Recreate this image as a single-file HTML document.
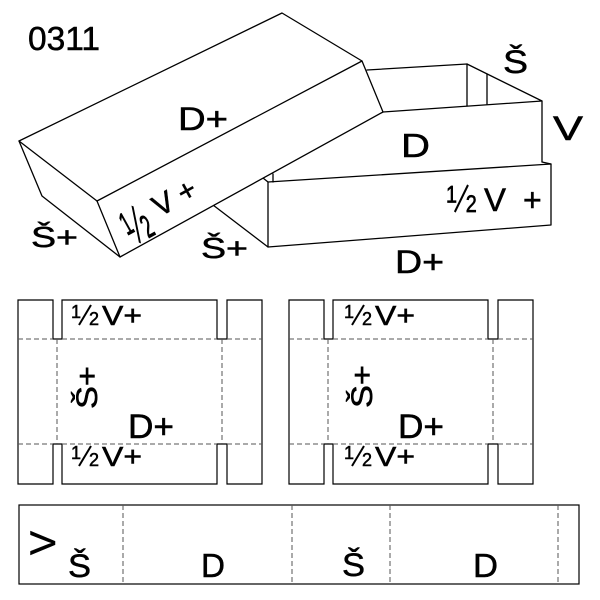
<!DOCTYPE html>
<html>
<head>
<meta charset="utf-8">
<style>
html,body{margin:0;padding:0;background:#fff;}
svg{display:block;}
text{font-family:"Liberation Sans",Arial,sans-serif;fill:#000;stroke:#000;stroke-width:0.5px;}
</style>
</head>
<body>
<svg width="600" height="600" viewBox="0 0 600 600" xmlns="http://www.w3.org/2000/svg">
<rect x="0" y="0" width="600" height="600" fill="#fff"/>

<!-- 3D: base box -->
<g stroke="#000" stroke-width="1.3" fill="none" stroke-linejoin="round" stroke-linecap="round">
  <polyline points="367,70 467,64 542,101 542,162"/>
  <line x1="383" y1="112" x2="542" y2="101"/>
  <line x1="467" y1="64" x2="467" y2="106"/>
  <line x1="487" y1="74" x2="487" y2="104"/>
  <polygon points="268,182 551,164 551,225 268,247" fill="#fff"/>
  <line x1="542" y1="162" x2="551" y2="164"/>
  <line x1="213" y1="205" x2="268" y2="247"/>
  <line x1="263" y1="178" x2="268" y2="182"/>
  <line x1="273" y1="174" x2="273" y2="182"/>
  <!-- lid -->
  <polygon points="19,141 282,13 362,61 383,112 120,257 42,196" fill="#fff"/>
  <line x1="97" y1="201" x2="362" y2="61"/>
  <line x1="19" y1="141" x2="97" y2="201"/>
  <line x1="97" y1="201" x2="120" y2="257"/>
</g>

<!-- 3D labels -->
<text x="28" y="50" font-size="33" textLength="72" lengthAdjust="spacingAndGlyphs">0311</text>
<text x="178" y="130" font-size="32" textLength="50" lengthAdjust="spacingAndGlyphs">D+</text>
<text x="31" y="247" font-size="29" textLength="47" lengthAdjust="spacingAndGlyphs">Š+</text>
<g transform="translate(169,212) rotate(-29)">
  <g transform="translate(-48,13) scale(0.95,1.8)">
    <text x="0" y="-7" font-size="18">1</text>
    <line x1="8" y1="0" x2="20" y2="-20" stroke="#000" stroke-width="1.8"/>
    <text x="18" y="0" font-size="18">2</text>
  </g>
  <text x="-11" y="0" font-size="30">V</text>
  <text x="17" y="0" font-size="30">+</text>
</g>
<text x="201" y="258" font-size="29" textLength="47" lengthAdjust="spacingAndGlyphs">Š+</text>
<text x="503" y="73" font-size="32" textLength="25" lengthAdjust="spacingAndGlyphs">Š</text>
<text x="553" y="140" font-size="34" textLength="30" lengthAdjust="spacingAndGlyphs">V</text>
<text x="401" y="157" font-size="33" textLength="29" lengthAdjust="spacingAndGlyphs">D</text>
<g transform="translate(446,212) scale(1.1,1.35)">
  <text x="0" y="-7" font-size="18">1</text>
  <line x1="8" y1="0" x2="20" y2="-20" stroke="#000" stroke-width="1.8"/>
  <text x="18" y="0" font-size="18">2</text>
</g>
<text x="484" y="211" font-size="32" textLength="22" lengthAdjust="spacingAndGlyphs">V</text>
<text x="523" y="211" font-size="32">+</text>
<text x="395" y="273" font-size="32" textLength="49" lengthAdjust="spacingAndGlyphs">D+</text>

<!-- Left net -->
<g>
  <path d="M18,300 H53 V339 H62 V300 H217 V339 H227 V300 H262 V484 H227 V444 H217 V484 H62 V444 H53 V484 H18 Z" fill="none" stroke="#000" stroke-width="1.2"/>
  <path d="M18,339 H53 M62,339 H217 M227,339 H262 M18,444 H53 M62,444 H217 M227,444 H262 M57,339 V444 M222,339 V444" fill="none" stroke="#555" stroke-width="1" stroke-dasharray="5,3"/>
  <g transform="translate(71,325)">
    <text x="0" y="-7" font-size="18">1</text>
    <line x1="8" y1="0" x2="20" y2="-20" stroke="#000" stroke-width="2"/>
    <text x="18" y="0" font-size="18">2</text>
  </g>
  <text x="102" y="325" font-size="28" textLength="40" lengthAdjust="spacingAndGlyphs">V+</text>
  <g transform="translate(71,466)">
    <text x="0" y="-7" font-size="18">1</text>
    <line x1="8" y1="0" x2="20" y2="-20" stroke="#000" stroke-width="2"/>
    <text x="18" y="0" font-size="18">2</text>
  </g>
  <text x="102" y="466" font-size="28" textLength="40" lengthAdjust="spacingAndGlyphs">V+</text>
  <text transform="translate(97,409) rotate(-90)" font-size="30" textLength="43" lengthAdjust="spacingAndGlyphs">Š+</text>
  <text x="128" y="438" font-size="34" textLength="46" lengthAdjust="spacingAndGlyphs">D+</text>
</g>

<!-- Right net -->
<g>
  <path d="M289,300 H324 V339 H333 V300 H488 V339 H498 V300 H533 V484 H498 V444 H488 V484 H333 V444 H324 V484 H289 Z" fill="none" stroke="#000" stroke-width="1.2"/>
  <path d="M289,339 H324 M333,339 H488 M498,339 H533 M289,444 H324 M333,444 H488 M498,444 H533 M328,339 V444 M493,339 V444" fill="none" stroke="#555" stroke-width="1" stroke-dasharray="5,3"/>
  <g transform="translate(344,325)">
    <text x="0" y="-7" font-size="18">1</text>
    <line x1="8" y1="0" x2="20" y2="-20" stroke="#000" stroke-width="2"/>
    <text x="18" y="0" font-size="18">2</text>
  </g>
  <text x="375" y="325" font-size="28" textLength="40" lengthAdjust="spacingAndGlyphs">V+</text>
  <g transform="translate(344,466)">
    <text x="0" y="-7" font-size="18">1</text>
    <line x1="8" y1="0" x2="20" y2="-20" stroke="#000" stroke-width="2"/>
    <text x="18" y="0" font-size="18">2</text>
  </g>
  <text x="375" y="466" font-size="28" textLength="40" lengthAdjust="spacingAndGlyphs">V+</text>
  <text transform="translate(372,408) rotate(-90)" font-size="30" textLength="43" lengthAdjust="spacingAndGlyphs">Š+</text>
  <text x="398" y="438" font-size="34" textLength="46" lengthAdjust="spacingAndGlyphs">D+</text>
</g>

<!-- Bottom strip -->
<g>
  <rect x="19" y="505" width="560" height="79" fill="none" stroke="#000" stroke-width="1.2"/>
  <path d="M123,505 V584 M292,505 V584 M390,505 V584 M558,505 V584" fill="none" stroke="#555" stroke-width="1" stroke-dasharray="5,3"/>
  <text transform="translate(55,555) rotate(-90)" font-size="35" textLength="24" lengthAdjust="spacingAndGlyphs">V</text>
  <text x="68" y="577" font-size="32" textLength="23" lengthAdjust="spacingAndGlyphs">Š</text>
  <text x="201" y="577" font-size="33" textLength="24" lengthAdjust="spacingAndGlyphs">D</text>
  <text x="342" y="576" font-size="32" textLength="23" lengthAdjust="spacingAndGlyphs">Š</text>
  <text x="473" y="577" font-size="33" textLength="25" lengthAdjust="spacingAndGlyphs">D</text>
</g>
</svg>
</body>
</html>
